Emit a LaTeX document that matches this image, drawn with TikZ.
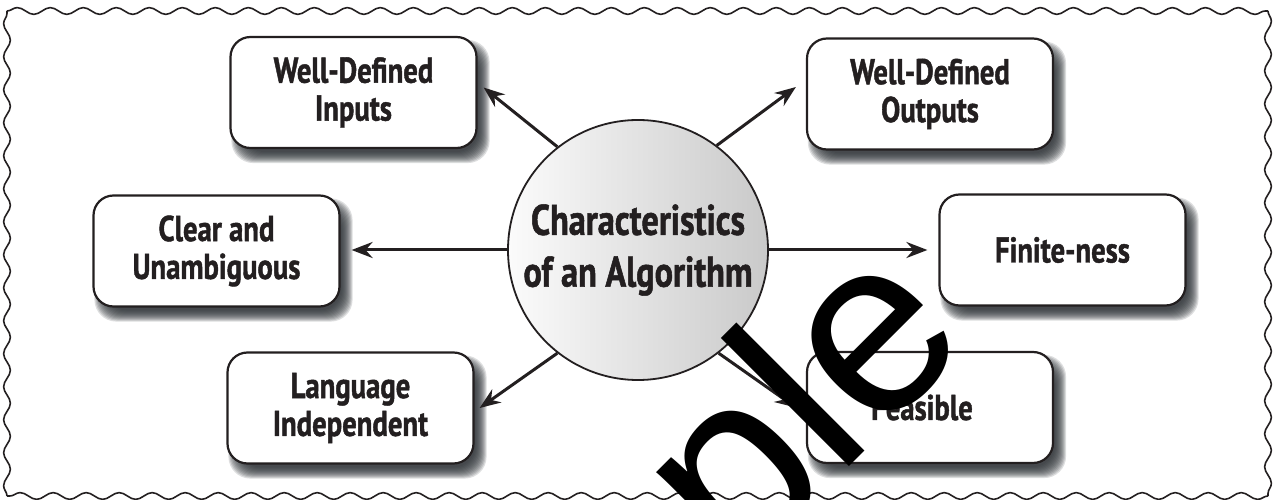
\documentclass[tikz,border=0pt]{standalone}
\usepackage{fontspec}
\setmainfont{PT Sans}
\newfontfamily\boxfont[FakeStretch=0.8,FakeBold=1.2]{PT Sans}
\newfontfamily\wmfont{Liberation Sans}
\usetikzlibrary{arrows.meta,calc,decorations.pathmorphing}
\definecolor{ink}{HTML}{231F20}
\definecolor{shadowc}{HTML}{2F3438}
\tikzset{
  boxnode/.style={draw=ink, line width=2.2bp, rounded corners=20bp, fill=white,
    minimum width=246bp, minimum height=111bp, align=center, inner sep=0,
    text=ink, font=\boxfont\bfseries\fontsize{36}{38}\selectfont},
  hubnode/.style={circle, draw=ink, line width=1.8bp, minimum size=260bp, inner sep=0,
    shading=axis, left color=gray!3, right color=gray!42, align=center, text=ink,
    font=\boxfont\bfseries\fontsize{43}{52}\selectfont},
  arr/.style={draw=ink, line width=3bp, -{Stealth[length=21bp,width=16bp,inset=7bp]}},
  wave/.style={draw=ink, line width=1.6bp, decorate,
    decoration={snake, segment length=33bp, amplitude=3.4bp}},
}
\newcommand{\softshadow}[1]{%
  \foreach \k in {-6,...,5}{%
    \fill[shadowc, opacity=0.16, rounded corners=22bp]
      ([xshift=7bp-\k bp, yshift=-9bp-\k bp]#1.south west) rectangle
      ([xshift=7bp+\k bp, yshift=-9bp+\k bp]#1.north east);
  }%
}
\begin{document}
\begin{tikzpicture}[x=1bp, y=-1bp]
\useasboundingbox (0,0) rectangle (1274,500);
\fill[white] (0,0) rectangle (1274,500);
% wavy frame
\coordinate (f1) at (7,11);
\coordinate (f2) at (1268,11);
\coordinate (f3) at (1268,496);
\coordinate (f4) at (7,496);
\draw[wave] (f1) -- (f2);
\draw[wave] (f2) -- (f3);
\draw[wave] (f3) -- (f4);
\draw[wave] (f4) -- (f1);
% invisible placement of boxes for shadows
\path (353.5,92.5) node[boxnode, draw=none, fill=none, text opacity=0] (in0) {Well-Defined\\Inputs};
\path (930,94) node[boxnode, draw=none, fill=none, text opacity=0] (out0) {Well-Defined\\Outputs};
\path (216.5,251) node[boxnode, draw=none, fill=none, text opacity=0] (cl0) {Clear and\\Unambiguous};
\path (1062.5,250) node[boxnode, draw=none, fill=none, text opacity=0] (fin0) {Finite-ness};
\path (350.5,408) node[boxnode, draw=none, fill=none, text opacity=0] (lang0) {Language\\Independent};
\path (930,407.5) node[boxnode, draw=none, fill=none, text opacity=0] (fea0) {Feasible};
\softshadow{in0}
\softshadow{out0}
\softshadow{cl0}
\softshadow{fin0}
\softshadow{lang0}
\softshadow{fea0}
% boxes
\node[boxnode] (in) at (353.5,92.5) {Well-Defined\\Inputs};
\node[boxnode] (out) at (930,94) {Well-Defined\\Outputs};
\node[boxnode] (cl) at (216.5,251) {Clear and\\Unambiguous};
\node[boxnode] (fin) at (1062.5,250) {Finite-ness};
\node[boxnode] (lang) at (350.5,408) {Language\\Independent};
\node[boxnode] (fea) at (930,407.5) {Feasible\hspace*{16bp}};
% hub
\node[hubnode] (c) at (638,250) {Characteristics\\of an Algorithm};
% arrows
\draw[arr] (c.128) -- ([xshift=6bp, yshift=5bp]in.east);
\draw[arr] (c.53) -- ([xshift=-10bp, yshift=7bp]out.west);
\draw[arr] (c.west) -- ($(c.west -| cl.east)+(11,0)$);
\draw[arr] (c.east) -- ($(c.east -| fin.west)+(-11,0)$);
\draw[arr] (c.232) -- ([xshift=5bp]lang.east);
\draw[arr] (c.-52) -- ([xshift=-10bp]fea.west);
% watermark
\begin{scope}
\clip (0,0) rectangle (1274,500);
\node[rotate=45, anchor=base east, inner sep=0, text=black,
  font=\wmfont\fontsize{251}{255}\selectfont] (wm) at (975,341) {Sample};
\end{scope}
\end{tikzpicture}
\end{document}
